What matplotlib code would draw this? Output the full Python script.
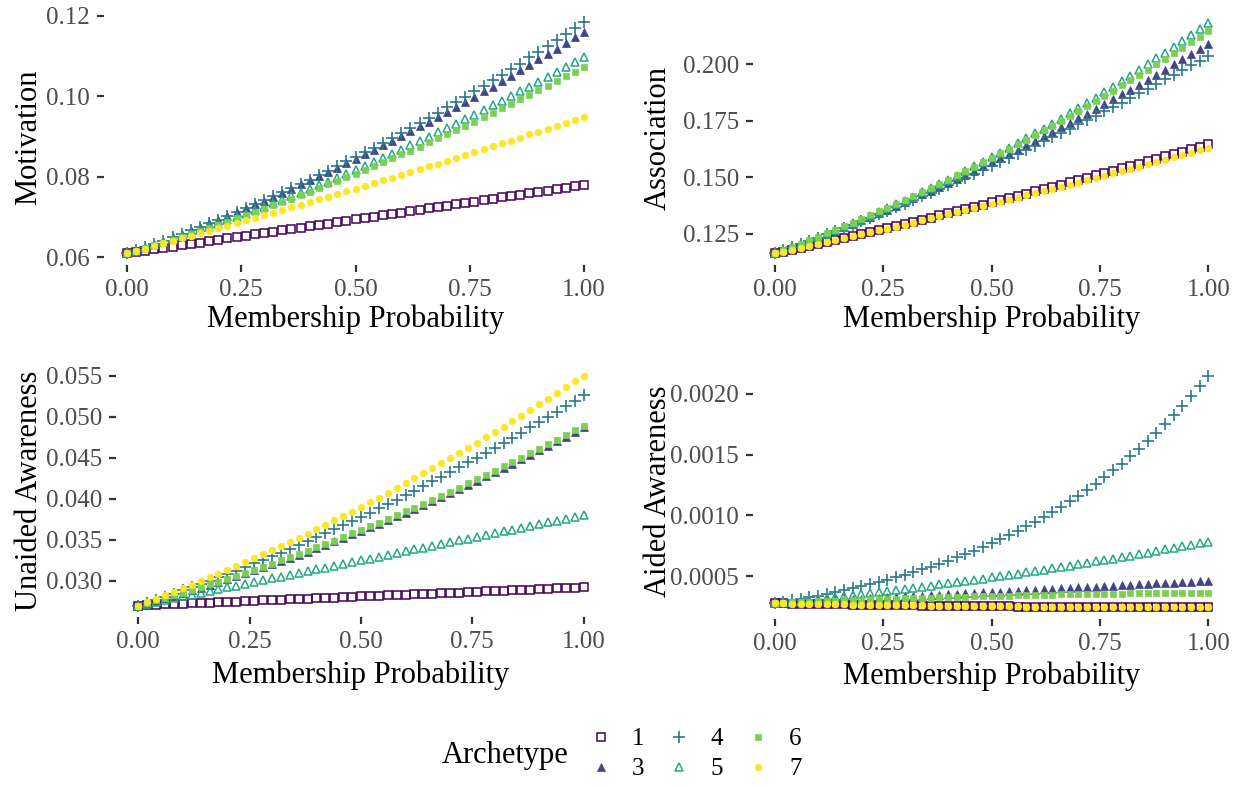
import matplotlib
matplotlib.use("Agg")
import matplotlib.pyplot as plt
from matplotlib.lines import Line2D
from matplotlib.ticker import FixedLocator, FormatStrFormatter

plt.rcParams["font.family"] = ["Liberation Serif", "DejaVu Serif"]

# membership probability grid
prob = [0.00, 0.02, 0.04, 0.06, 0.08, 0.10, 0.12, 0.14, 0.16, 0.18,
        0.20, 0.22, 0.24, 0.26, 0.28, 0.30, 0.32, 0.34, 0.36, 0.38,
        0.40, 0.42, 0.44, 0.46, 0.48, 0.50, 0.52, 0.54, 0.56, 0.58,
        0.60, 0.62, 0.64, 0.66, 0.68, 0.70, 0.72, 0.74, 0.76, 0.78,
        0.80, 0.82, 0.84, 0.86, 0.88, 0.90, 0.92, 0.94, 0.96, 0.98, 1.00]

archetypes = ["1", "3", "4", "5", "6", "7"]

# Motivation
mot_1 = [0.0610, 0.0613, 0.0617, 0.0620, 0.0624, 0.0627, 0.0630, 0.0634, 0.0637, 0.0640,
         0.0644, 0.0647, 0.0651, 0.0654, 0.0657, 0.0661, 0.0664, 0.0667, 0.0671, 0.0674,
         0.0678, 0.0681, 0.0684, 0.0688, 0.0691, 0.0695, 0.0698, 0.0701, 0.0705, 0.0708,
         0.0711, 0.0715, 0.0718, 0.0722, 0.0725, 0.0728, 0.0732, 0.0735, 0.0738, 0.0742,
         0.0745, 0.0749, 0.0752, 0.0755, 0.0759, 0.0762, 0.0765, 0.0769, 0.0772, 0.0776, 0.0779]
mot_3 = [0.0610, 0.0618, 0.0626, 0.0634, 0.0642, 0.0651, 0.0659, 0.0668, 0.0676, 0.0685,
         0.0694, 0.0704, 0.0713, 0.0722, 0.0732, 0.0741, 0.0751, 0.0761, 0.0771, 0.0781,
         0.0792, 0.0802, 0.0813, 0.0823, 0.0834, 0.0845, 0.0856, 0.0867, 0.0879, 0.0890,
         0.0902, 0.0913, 0.0925, 0.0937, 0.0949, 0.0961, 0.0974, 0.0986, 0.0999, 0.1012,
         0.1024, 0.1037, 0.1051, 0.1064, 0.1077, 0.1091, 0.1104, 0.1118, 0.1132, 0.1146, 0.1160]
mot_4 = [0.0610, 0.0618, 0.0626, 0.0634, 0.0642, 0.0650, 0.0659, 0.0667, 0.0676, 0.0685,
         0.0694, 0.0703, 0.0713, 0.0722, 0.0732, 0.0742, 0.0752, 0.0762, 0.0772, 0.0783,
         0.0793, 0.0804, 0.0815, 0.0826, 0.0838, 0.0849, 0.0861, 0.0872, 0.0884, 0.0896,
         0.0908, 0.0921, 0.0933, 0.0946, 0.0959, 0.0972, 0.0985, 0.0998, 0.1012, 0.1025,
         0.1039, 0.1053, 0.1067, 0.1081, 0.1096, 0.1110, 0.1125, 0.1140, 0.1155, 0.1170, 0.1185]
mot_5 = [0.0610, 0.0617, 0.0624, 0.0631, 0.0638, 0.0645, 0.0653, 0.0661, 0.0668, 0.0676,
         0.0684, 0.0692, 0.0700, 0.0708, 0.0717, 0.0725, 0.0734, 0.0743, 0.0752, 0.0761,
         0.0770, 0.0779, 0.0788, 0.0798, 0.0807, 0.0817, 0.0827, 0.0837, 0.0847, 0.0857,
         0.0867, 0.0878, 0.0888, 0.0899, 0.0910, 0.0921, 0.0932, 0.0943, 0.0954, 0.0965,
         0.0977, 0.0988, 0.1000, 0.1012, 0.1024, 0.1036, 0.1048, 0.1060, 0.1073, 0.1085, 0.1098]
mot_6 = [0.0610, 0.0617, 0.0623, 0.0630, 0.0637, 0.0644, 0.0651, 0.0659, 0.0666, 0.0674,
         0.0681, 0.0689, 0.0697, 0.0705, 0.0713, 0.0721, 0.0729, 0.0737, 0.0746, 0.0754,
         0.0763, 0.0772, 0.0781, 0.0790, 0.0799, 0.0808, 0.0817, 0.0827, 0.0836, 0.0846,
         0.0856, 0.0865, 0.0875, 0.0886, 0.0896, 0.0906, 0.0916, 0.0927, 0.0937, 0.0948,
         0.0959, 0.0970, 0.0981, 0.0992, 0.1003, 0.1015, 0.1026, 0.1038, 0.1049, 0.1061, 0.1073]
mot_7 = [0.0610, 0.0616, 0.0622, 0.0628, 0.0635, 0.0641, 0.0647, 0.0653, 0.0660, 0.0666,
         0.0672, 0.0679, 0.0685, 0.0692, 0.0698, 0.0705, 0.0711, 0.0718, 0.0724, 0.0731,
         0.0737, 0.0744, 0.0751, 0.0757, 0.0764, 0.0771, 0.0778, 0.0785, 0.0791, 0.0798,
         0.0805, 0.0812, 0.0819, 0.0826, 0.0833, 0.0840, 0.0847, 0.0854, 0.0861, 0.0869,
         0.0876, 0.0883, 0.0890, 0.0897, 0.0905, 0.0912, 0.0919, 0.0927, 0.0934, 0.0942, 0.0949]

# Association
asc_1 = [0.1162, 0.1170, 0.1179, 0.1187, 0.1196, 0.1205, 0.1213, 0.1222, 0.1231, 0.1240,
         0.1249, 0.1257, 0.1266, 0.1276, 0.1285, 0.1294, 0.1303, 0.1312, 0.1321, 0.1331,
         0.1340, 0.1350, 0.1359, 0.1369, 0.1378, 0.1388, 0.1398, 0.1407, 0.1417, 0.1427,
         0.1437, 0.1447, 0.1457, 0.1467, 0.1477, 0.1487, 0.1498, 0.1508, 0.1518, 0.1529,
         0.1539, 0.1549, 0.1560, 0.1571, 0.1581, 0.1592, 0.1603, 0.1613, 0.1624, 0.1635, 0.1646]
asc_3 = [0.1162, 0.1176, 0.1190, 0.1204, 0.1218, 0.1233, 0.1248, 0.1262, 0.1278, 0.1293,
         0.1308, 0.1324, 0.1340, 0.1356, 0.1373, 0.1389, 0.1406, 0.1423, 0.1440, 0.1457,
         0.1475, 0.1492, 0.1510, 0.1528, 0.1547, 0.1565, 0.1584, 0.1603, 0.1622, 0.1641,
         0.1660, 0.1680, 0.1700, 0.1720, 0.1740, 0.1761, 0.1781, 0.1802, 0.1823, 0.1844,
         0.1866, 0.1887, 0.1909, 0.1931, 0.1954, 0.1976, 0.1999, 0.2021, 0.2044, 0.2068, 0.2091]
asc_4 = [0.1162, 0.1176, 0.1189, 0.1203, 0.1217, 0.1232, 0.1246, 0.1261, 0.1275, 0.1290,
         0.1305, 0.1321, 0.1336, 0.1351, 0.1367, 0.1383, 0.1399, 0.1415, 0.1431, 0.1448,
         0.1464, 0.1481, 0.1498, 0.1515, 0.1533, 0.1550, 0.1568, 0.1585, 0.1603, 0.1621,
         0.1639, 0.1658, 0.1676, 0.1695, 0.1714, 0.1733, 0.1752, 0.1771, 0.1791, 0.1811,
         0.1830, 0.1850, 0.1870, 0.1891, 0.1911, 0.1932, 0.1952, 0.1973, 0.1994, 0.2016, 0.2037]
asc_5 = [0.1162, 0.1176, 0.1190, 0.1204, 0.1218, 0.1233, 0.1248, 0.1264, 0.1279, 0.1295,
         0.1311, 0.1328, 0.1345, 0.1362, 0.1379, 0.1396, 0.1414, 0.1432, 0.1451, 0.1469,
         0.1488, 0.1507, 0.1527, 0.1547, 0.1567, 0.1587, 0.1608, 0.1628, 0.1650, 0.1671,
         0.1693, 0.1715, 0.1737, 0.1759, 0.1782, 0.1805, 0.1828, 0.1852, 0.1876, 0.1900,
         0.1925, 0.1949, 0.1974, 0.2000, 0.2025, 0.2051, 0.2077, 0.2103, 0.2130, 0.2157, 0.2184]
asc_6 = [0.1162, 0.1176, 0.1191, 0.1205, 0.1220, 0.1235, 0.1251, 0.1266, 0.1282, 0.1298,
         0.1315, 0.1331, 0.1348, 0.1365, 0.1382, 0.1399, 0.1417, 0.1435, 0.1453, 0.1471,
         0.1489, 0.1508, 0.1527, 0.1546, 0.1565, 0.1585, 0.1605, 0.1625, 0.1645, 0.1666,
         0.1686, 0.1707, 0.1728, 0.1750, 0.1771, 0.1793, 0.1815, 0.1837, 0.1860, 0.1883,
         0.1906, 0.1929, 0.1952, 0.1976, 0.1999, 0.2023, 0.2048, 0.2072, 0.2097, 0.2122, 0.2147]
asc_7 = [0.1162, 0.1170, 0.1178, 0.1187, 0.1195, 0.1204, 0.1212, 0.1220, 0.1229, 0.1238,
         0.1246, 0.1255, 0.1264, 0.1272, 0.1281, 0.1290, 0.1299, 0.1308, 0.1317, 0.1326,
         0.1335, 0.1344, 0.1353, 0.1362, 0.1372, 0.1381, 0.1390, 0.1400, 0.1409, 0.1419,
         0.1428, 0.1438, 0.1447, 0.1457, 0.1467, 0.1476, 0.1486, 0.1496, 0.1506, 0.1516,
         0.1526, 0.1536, 0.1546, 0.1556, 0.1566, 0.1576, 0.1587, 0.1597, 0.1607, 0.1618, 0.1628]

# Unaided Awareness
una_1 = [0.02700, 0.02704, 0.02709, 0.02713, 0.02718, 0.02722, 0.02726, 0.02731, 0.02735, 0.02740,
         0.02744, 0.02748, 0.02753, 0.02757, 0.02762, 0.02766, 0.02770, 0.02775, 0.02779, 0.02784,
         0.02788, 0.02792, 0.02797, 0.02801, 0.02806, 0.02810, 0.02814, 0.02819, 0.02823, 0.02828,
         0.02832, 0.02836, 0.02841, 0.02845, 0.02850, 0.02854, 0.02858, 0.02863, 0.02867, 0.02872,
         0.02876, 0.02880, 0.02885, 0.02889, 0.02894, 0.02898, 0.02902, 0.02907, 0.02911, 0.02916, 0.02920]
una_3 = [0.02700, 0.02729, 0.02760, 0.02790, 0.02822, 0.02853, 0.02886, 0.02918, 0.02952, 0.02986,
         0.03020, 0.03056, 0.03092, 0.03128, 0.03165, 0.03202, 0.03240, 0.03279, 0.03318, 0.03357,
         0.03397, 0.03439, 0.03480, 0.03522, 0.03565, 0.03608, 0.03651, 0.03696, 0.03740, 0.03786,
         0.03832, 0.03878, 0.03925, 0.03973, 0.04021, 0.04070, 0.04120, 0.04169, 0.04220, 0.04271,
         0.04322, 0.04375, 0.04427, 0.04481, 0.04534, 0.04589, 0.04644, 0.04700, 0.04756, 0.04813, 0.04870]
una_4 = [0.02700, 0.02735, 0.02772, 0.02809, 0.02846, 0.02884, 0.02923, 0.02962, 0.03002, 0.03043,
         0.03084, 0.03126, 0.03169, 0.03212, 0.03256, 0.03300, 0.03345, 0.03391, 0.03437, 0.03484,
         0.03532, 0.03580, 0.03629, 0.03679, 0.03729, 0.03780, 0.03832, 0.03884, 0.03937, 0.03990,
         0.04044, 0.04099, 0.04154, 0.04210, 0.04267, 0.04324, 0.04382, 0.04441, 0.04500, 0.04560,
         0.04620, 0.04681, 0.04743, 0.04805, 0.04868, 0.04932, 0.04996, 0.05061, 0.05127, 0.05193, 0.05260]
una_5 = [0.02700, 0.02722, 0.02744, 0.02766, 0.02788, 0.02810, 0.02832, 0.02854, 0.02876, 0.02898,
         0.02920, 0.02942, 0.02964, 0.02986, 0.03008, 0.03030, 0.03052, 0.03074, 0.03096, 0.03118,
         0.03140, 0.03162, 0.03184, 0.03206, 0.03228, 0.03250, 0.03272, 0.03294, 0.03316, 0.03338,
         0.03360, 0.03382, 0.03404, 0.03426, 0.03448, 0.03470, 0.03492, 0.03514, 0.03536, 0.03558,
         0.03580, 0.03602, 0.03624, 0.03646, 0.03668, 0.03690, 0.03712, 0.03734, 0.03756, 0.03778, 0.03800]
una_6 = [0.02700, 0.02730, 0.02761, 0.02792, 0.02824, 0.02856, 0.02889, 0.02922, 0.02956, 0.02991,
         0.03026, 0.03062, 0.03098, 0.03135, 0.03172, 0.03210, 0.03249, 0.03288, 0.03327, 0.03367,
         0.03408, 0.03449, 0.03491, 0.03534, 0.03577, 0.03620, 0.03664, 0.03709, 0.03754, 0.03800,
         0.03846, 0.03893, 0.03940, 0.03988, 0.04037, 0.04086, 0.04136, 0.04186, 0.04237, 0.04288,
         0.04340, 0.04393, 0.04446, 0.04499, 0.04553, 0.04608, 0.04663, 0.04719, 0.04776, 0.04833, 0.04890]
una_7 = [0.02700, 0.02740, 0.02781, 0.02823, 0.02865, 0.02908, 0.02952, 0.02996, 0.03041, 0.03086,
         0.03132, 0.03179, 0.03226, 0.03274, 0.03323, 0.03372, 0.03422, 0.03473, 0.03524, 0.03576,
         0.03628, 0.03681, 0.03735, 0.03789, 0.03844, 0.03900, 0.03956, 0.04013, 0.04071, 0.04129,
         0.04188, 0.04248, 0.04308, 0.04369, 0.04430, 0.04492, 0.04555, 0.04618, 0.04682, 0.04747,
         0.04812, 0.04878, 0.04945, 0.05012, 0.05080, 0.05148, 0.05217, 0.05287, 0.05357, 0.05428, 0.05500]

# Aided Awareness
aid_1 = [2.760e-4, 2.745e-4, 2.731e-4, 2.718e-4, 2.705e-4, 2.692e-4, 2.680e-4, 2.668e-4, 2.656e-4, 2.645e-4,
         2.634e-4, 2.623e-4, 2.613e-4, 2.603e-4, 2.593e-4, 2.583e-4, 2.574e-4, 2.565e-4, 2.556e-4, 2.548e-4,
         2.540e-4, 2.532e-4, 2.524e-4, 2.517e-4, 2.510e-4, 2.503e-4, 2.496e-4, 2.490e-4, 2.484e-4, 2.478e-4,
         2.472e-4, 2.467e-4, 2.462e-4, 2.457e-4, 2.452e-4, 2.448e-4, 2.444e-4, 2.440e-4, 2.436e-4, 2.433e-4,
         2.430e-4, 2.427e-4, 2.424e-4, 2.422e-4, 2.420e-4, 2.418e-4, 2.417e-4, 2.416e-4, 2.415e-4, 2.414e-4, 2.414e-4]
aid_3 = [2.760e-4, 2.797e-4, 2.834e-4, 2.871e-4, 2.908e-4, 2.945e-4, 2.982e-4, 3.019e-4, 3.056e-4, 3.093e-4,
         3.130e-4, 3.167e-4, 3.204e-4, 3.241e-4, 3.278e-4, 3.315e-4, 3.352e-4, 3.389e-4, 3.426e-4, 3.463e-4,
         3.500e-4, 3.537e-4, 3.574e-4, 3.611e-4, 3.648e-4, 3.685e-4, 3.722e-4, 3.759e-4, 3.796e-4, 3.833e-4,
         3.870e-4, 3.907e-4, 3.944e-4, 3.981e-4, 4.018e-4, 4.055e-4, 4.092e-4, 4.129e-4, 4.166e-4, 4.203e-4,
         4.240e-4, 4.277e-4, 4.314e-4, 4.351e-4, 4.388e-4, 4.425e-4, 4.462e-4, 4.499e-4, 4.536e-4, 4.573e-4, 4.610e-4]
aid_4 = [2.760e-4, 2.876e-4, 2.996e-4, 3.122e-4, 3.253e-4, 3.389e-4, 3.531e-4, 3.679e-4, 3.833e-4, 3.994e-4,
         4.161e-4, 4.335e-4, 4.517e-4, 4.706e-4, 4.904e-4, 5.109e-4, 5.323e-4, 5.546e-4, 5.779e-4, 6.021e-4,
         6.273e-4, 6.536e-4, 6.810e-4, 7.096e-4, 7.393e-4, 7.703e-4, 8.026e-4, 8.362e-4, 8.713e-4, 9.078e-4,
         9.459e-4, 9.855e-4, 10.268e-4, 10.699e-4, 11.147e-4, 11.614e-4, 12.101e-4, 12.608e-4, 13.137e-4, 13.688e-4,
         14.261e-4, 14.859e-4, 15.482e-4, 16.131e-4, 16.807e-4, 17.511e-4, 18.245e-4, 19.010e-4, 19.807e-4, 20.637e-4, 21.502e-4]
aid_5 = [2.760e-4, 2.830e-4, 2.900e-4, 2.972e-4, 3.046e-4, 3.120e-4, 3.196e-4, 3.274e-4, 3.352e-4, 3.432e-4,
         3.514e-4, 3.596e-4, 3.680e-4, 3.765e-4, 3.852e-4, 3.940e-4, 4.029e-4, 4.119e-4, 4.211e-4, 4.304e-4,
         4.398e-4, 4.494e-4, 4.591e-4, 4.689e-4, 4.789e-4, 4.890e-4, 4.992e-4, 5.096e-4, 5.201e-4, 5.307e-4,
         5.414e-4, 5.523e-4, 5.633e-4, 5.745e-4, 5.858e-4, 5.972e-4, 6.087e-4, 6.204e-4, 6.322e-4, 6.441e-4,
         6.562e-4, 6.684e-4, 6.807e-4, 6.931e-4, 7.057e-4, 7.184e-4, 7.313e-4, 7.443e-4, 7.574e-4, 7.706e-4, 7.840e-4]
aid_6 = [2.760e-4, 2.791e-4, 2.821e-4, 2.850e-4, 2.879e-4, 2.907e-4, 2.935e-4, 2.962e-4, 2.989e-4, 3.015e-4,
         3.041e-4, 3.066e-4, 3.090e-4, 3.114e-4, 3.138e-4, 3.161e-4, 3.183e-4, 3.205e-4, 3.226e-4, 3.247e-4,
         3.267e-4, 3.287e-4, 3.306e-4, 3.325e-4, 3.343e-4, 3.360e-4, 3.377e-4, 3.393e-4, 3.409e-4, 3.424e-4,
         3.439e-4, 3.453e-4, 3.467e-4, 3.480e-4, 3.493e-4, 3.505e-4, 3.516e-4, 3.527e-4, 3.538e-4, 3.548e-4,
         3.557e-4, 3.566e-4, 3.574e-4, 3.582e-4, 3.589e-4, 3.595e-4, 3.601e-4, 3.607e-4, 3.612e-4, 3.616e-4, 3.620e-4]
aid_7 = [2.760e-4, 2.747e-4, 2.734e-4, 2.722e-4, 2.709e-4, 2.697e-4, 2.686e-4, 2.674e-4, 2.663e-4, 2.652e-4,
         2.641e-4, 2.631e-4, 2.621e-4, 2.611e-4, 2.601e-4, 2.592e-4, 2.583e-4, 2.574e-4, 2.565e-4, 2.557e-4,
         2.549e-4, 2.541e-4, 2.533e-4, 2.526e-4, 2.519e-4, 2.513e-4, 2.506e-4, 2.500e-4, 2.494e-4, 2.488e-4,
         2.483e-4, 2.478e-4, 2.473e-4, 2.468e-4, 2.464e-4, 2.460e-4, 2.456e-4, 2.452e-4, 2.449e-4, 2.446e-4,
         2.443e-4, 2.441e-4, 2.438e-4, 2.436e-4, 2.435e-4, 2.433e-4, 2.432e-4, 2.431e-4, 2.431e-4, 2.430e-4, 2.430e-4]

x_ticks = [0.00, 0.25, 0.50, 0.75, 1.00]
mot_ticks = [0.06, 0.08, 0.10, 0.12]
asc_ticks = [0.125, 0.150, 0.175, 0.200]
una_ticks = [0.030, 0.035, 0.040, 0.045, 0.050, 0.055]
aid_ticks = [0.0005, 0.0010, 0.0015, 0.0020]

# viridis, 6 levels
colors = {"1": "#440154", "3": "#414487", "4": "#2A788E",
          "5": "#22A884", "6": "#7AD151", "7": "#FDE725"}

styles = {
    "1": dict(marker="s", mfc="none", mec=colors["1"], mew=1.1, ms=5.2),
    "3": dict(marker="^", mfc=colors["3"], mec=colors["3"], mew=0.5, ms=5.5),
    "4": dict(marker="+", mfc=colors["4"], mec=colors["4"], mew=1.2, ms=8.5),
    "5": dict(marker="^", mfc="none", mec=colors["5"], mew=1.1, ms=6),
    "6": dict(marker="s", mfc=colors["6"], mec=colors["6"], mew=0.5, ms=4.6),
    "7": dict(marker="o", mfc=colors["7"], mec=colors["7"], mew=0.5, ms=4.8),
}

# (label, series, y ticks, tick format, box in px [left, top, right, bottom], ylabel x, xlabel y)
panels = [
    ("Motivation", [mot_1, mot_3, mot_4, mot_5, mot_6, mot_7], mot_ticks, "%.2f",
     [104, 10, 607, 265], -0.121, -0.155),
    ("Association", [asc_1, asc_3, asc_4, asc_5, asc_6, asc_7], asc_ticks, "%.3f",
     [753, 11, 1230, 265], -0.168, -0.155),
    ("Unaided Awareness", [una_1, una_3, una_4, una_5, una_6, una_7], una_ticks, "%.3f",
     [116, 364, 606, 617], -0.147, -0.17),
    ("Aided Awareness", [aid_1, aid_3, aid_4, aid_5, aid_6, aid_7], aid_ticks, "%.4f",
     [753, 364, 1230, 619], -0.168, -0.165),
]

W, H = 1243, 787
fig = plt.figure(figsize=(W / 100, H / 100), dpi=100)

for ylabel, series, yticks, yfmt, box, ylab_x, xlab_y in panels:
    l, t, r, b = box
    ax = fig.add_axes([l / W, 1 - b / H, (r - l) / W, (b - t) / H])
    for arch, vals in zip(archetypes, series):
        ax.plot(prob, vals, linestyle="none", **styles[arch])
    ax.xaxis.set_major_locator(FixedLocator(x_ticks))
    ax.xaxis.set_major_formatter(FormatStrFormatter("%.2f"))
    ax.yaxis.set_major_locator(FixedLocator(yticks))
    ax.yaxis.set_major_formatter(FormatStrFormatter(yfmt))
    for s in ax.spines.values():
        s.set_visible(False)
    ax.tick_params(length=5, width=1.6, color="#333333", labelcolor="#4D4D4D",
                   labelsize=18, pad=5)
    ax.set_xlabel("Membership Probability", fontsize=22)
    ax.set_ylabel(ylabel, fontsize=22)
    ax.xaxis.set_label_coords(0.5, xlab_y)
    ax.yaxis.set_label_coords(ylab_x, 0.5)

handles = [Line2D([], [], linestyle="none", **styles[a]) for a in archetypes]
fig.legend(handles, archetypes, loc="center", ncol=3, frameon=False,
           bbox_to_anchor=(695 / W, 1 - 754 / H), fontsize=18,
           handlelength=1.0, handletextpad=0.75, columnspacing=0.9,
           labelspacing=0.3)
fig.text(505 / W, 1 - 755 / H, "Archetype", fontsize=22, ha="center", va="center")

fig.savefig("out.png", dpi=100)
